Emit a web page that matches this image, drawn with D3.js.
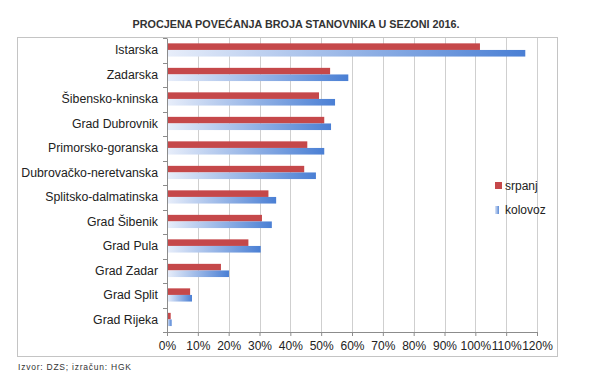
<!DOCTYPE html>
<html><head><meta charset="utf-8">
<script src="https://cdn.jsdelivr.net/npm/d3@7"></script>
<style>body{margin:0;background:#fff}svg{display:block}</style>
</head><body>
<script>
const categories = ["Istarska","Zadarska","Šibensko-kninska","Grad Dubrovnik","Primorsko-goranska","Dubrovačko-neretvanska","Splitsko-dalmatinska","Grad Šibenik","Grad Pula","Grad Zadar","Grad Split","Grad Rijeka"];
const srpanj  = [101.5, 52.9, 49.3, 51.0, 45.5, 44.5, 32.9, 30.8, 26.4, 17.5, 7.5, 1.2];
const kolovoz = [116.2, 58.8, 54.5, 53.2, 51.0, 48.3, 35.4, 34.0, 30.4, 20.1, 8.1, 1.5];
const seriesNames = ["srpanj","kolovoz"];
const xTicks = [0,10,20,30,40,50,60,70,80,90,100,110,120];
const title = "PROCJENA POVEĆANJA BROJA STANOVNIKA U SEZONI 2016.";
const source = "Izvor: DZS; izračun: HGK";

const W=603,H=377;
const svg=d3.select("body").append("svg").attr("width",W).attr("height",H);
const defs=svg.append("defs");
const g1=defs.append("linearGradient").attr("id","blueGrad").attr("x1","0").attr("x2","1").attr("y1","0").attr("y2","0");
g1.append("stop").attr("offset","0").attr("stop-color","#e8eefa");
g1.append("stop").attr("offset","1").attr("stop-color","#4a7fd4");
const g2=defs.append("linearGradient").attr("id","blueGradL").attr("x1","0").attr("x2","1").attr("y1","0").attr("y2","0");
g2.append("stop").attr("offset","0").attr("stop-color","#dbe5f7");
g2.append("stop").attr("offset","1").attr("stop-color","#5b8ad6");

const font="'Liberation Sans', Arial, sans-serif";

svg.append("text").attr("x",296).attr("y",28).attr("text-anchor","middle")
  .attr("font-family",font).attr("font-weight","bold").attr("font-size",10.8).attr("fill","#333").text(title);

svg.append("rect").attr("x",17.5).attr("y",37.5).attr("width",540).attr("height",319)
  .attr("fill","none").attr("stroke","#c4c4c4");

const x=d3.scaleLinear().domain([0,120]).range([167,537]);
const y=d3.scaleBand().domain(categories).range([38,332]).paddingInner(0).paddingOuter(0);

svg.append("g").selectAll("line").data(xTicks.slice(1)).join("line")
  .attr("x1",d=>Math.round(x(d))+0.5).attr("x2",d=>Math.round(x(d))+0.5)
  .attr("y1",38).attr("y2",332).attr("stroke","#cfcfcf");

const bh=6.6;
const data=categories.map((c,i)=>({c,s:srpanj[i],k:kolovoz[i]}));
const gb=svg.append("g");
gb.selectAll("rect.s").data(data).join("rect").attr("class","s")
  .attr("x",x(0)).attr("y",d=>y(d.c)+y.bandwidth()/2-bh-0.3)
  .attr("width",d=>x(d.s)-x(0)).attr("height",bh).attr("fill","#c5484a");
gb.selectAll("rect.k").data(data).join("rect").attr("class","k")
  .attr("x",x(0)).attr("y",d=>y(d.c)+y.bandwidth()/2-0.3)
  .attr("width",d=>x(d.k)-x(0)).attr("height",bh).attr("fill","url(#blueGrad)");

const xa=svg.append("g").attr("transform","translate(0,332)")
  .call(d3.axisBottom(x).tickValues(xTicks).tickFormat(d=>d+"%").tickSize(4).tickSizeOuter(0));
xa.select(".domain").attr("stroke","#8c8c8c");
xa.selectAll(".tick line").attr("stroke","#8c8c8c");
xa.selectAll("text").attr("font-family",font).attr("font-size",12).attr("fill","#222").attr("dy","0.95em");

const ya=svg.append("g").attr("transform","translate(167,0)")
  .call(d3.axisLeft(y).tickSize(0).tickPadding(9));
ya.select(".domain").attr("stroke","#8c8c8c");
ya.selectAll("text").attr("font-family",font).attr("font-size",12.3).attr("fill","#222");
svg.append("g").selectAll("line").data(d3.range(categories.length+1)).join("line")
  .attr("x1",163).attr("x2",167).attr("y1",i=>Math.round(38+i*y.step())+0.5).attr("y2",i=>Math.round(38+i*y.step())+0.5)
  .attr("stroke","#8c8c8c");

const lg=svg.append("g");
lg.append("rect").attr("x",495).attr("y",182).attr("width",7).attr("height",7).attr("fill","#c5484a");
lg.append("rect").attr("x",495).attr("y",206).attr("width",4).attr("height",8).attr("fill","url(#blueGradL)");
lg.append("text").attr("x",505).attr("y",190).attr("font-family",font).attr("font-size",12).attr("fill","#222").text(seriesNames[0]);
lg.append("text").attr("x",505).attr("y",214).attr("font-family",font).attr("font-size",12).attr("fill","#222").text(seriesNames[1]);

svg.append("text").attr("x",18).attr("y",370).attr("font-family",font).attr("font-size",8.5).attr("fill","#333")
  .attr("textLength",113).text(source);
</script>
</body></html>
